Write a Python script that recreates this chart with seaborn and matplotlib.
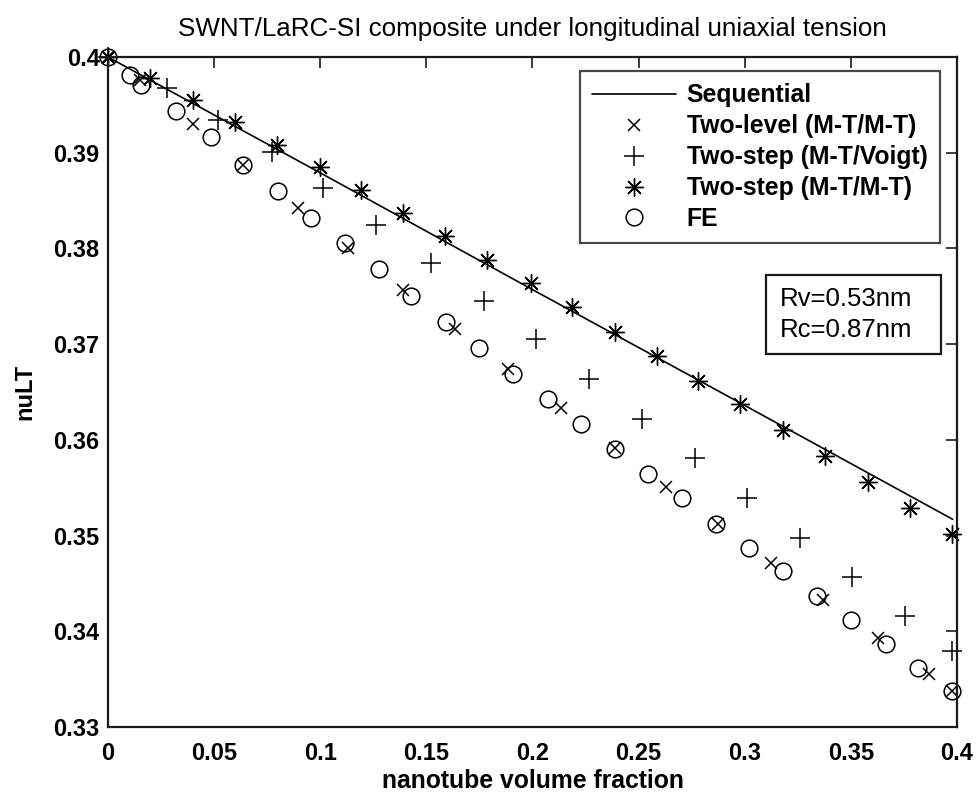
import matplotlib
matplotlib.use("Agg")
import matplotlib.pyplot as plt
from matplotlib.patches import Rectangle
import seaborn as sns

# ---- data ----
seq_x = [0.0, 0.1, 0.2, 0.3, 0.398]
seq_y = [0.4000, 0.3879, 0.3757, 0.3636, 0.3517]

lvl_x = [0.0, 0.015, 0.0402, 0.0637, 0.0893, 0.1132, 0.1391, 0.1635, 0.1886,
         0.2133, 0.239, 0.2627, 0.2872, 0.3126, 0.337, 0.3626, 0.387, 0.3978]
lvl_y = [0.4000, 0.3976, 0.3930, 0.3887, 0.3842, 0.3800, 0.3757, 0.3716, 0.3674,
         0.3633, 0.3591, 0.3551, 0.3512, 0.3471, 0.3433, 0.3393, 0.3355, 0.3338]

voigt_x = [0.0, 0.0276, 0.052, 0.0771, 0.1012, 0.1263, 0.1524, 0.1773, 0.2019,
           0.2268, 0.2517, 0.2766, 0.3012, 0.326, 0.3507, 0.3755, 0.3975]
voigt_y = [0.4000, 0.3968, 0.3934, 0.3901, 0.3863, 0.3825, 0.3785, 0.3745, 0.3705,
           0.3664, 0.3622, 0.3581, 0.3539, 0.3498, 0.3457, 0.3416, 0.3379]

mt_x = [0.0, 0.0198, 0.0402, 0.0598, 0.0795, 0.0997, 0.1194, 0.1392, 0.159,
        0.1787, 0.1991, 0.2188, 0.239, 0.2585, 0.278, 0.298, 0.318, 0.338,
        0.358, 0.378, 0.3978]
mt_y = [0.4000, 0.3978, 0.3955, 0.3932, 0.3908, 0.3885, 0.3861, 0.3837, 0.3813,
        0.3788, 0.3764, 0.3739, 0.3713, 0.3688, 0.3661, 0.3637, 0.3610, 0.3583,
        0.3556, 0.3529, 0.3502]

fe_x = [0.0, 0.0104, 0.0158, 0.032, 0.0484, 0.0637, 0.0799, 0.0956, 0.1116,
        0.1278, 0.143, 0.1592, 0.175, 0.191, 0.2072, 0.2229, 0.239, 0.2546,
        0.2703, 0.2867, 0.3021, 0.318, 0.3342, 0.35, 0.3664, 0.3818, 0.3978]
fe_y = [0.4000, 0.3981, 0.3971, 0.3944, 0.3916, 0.3887, 0.3860, 0.3832, 0.3806,
        0.3779, 0.3750, 0.3723, 0.3696, 0.3669, 0.3643, 0.3617, 0.3590, 0.3564,
        0.3539, 0.3512, 0.3487, 0.3463, 0.3437, 0.3412, 0.3387, 0.3362, 0.3338]

x_ticks = [0, 0.05, 0.1, 0.15, 0.2, 0.25, 0.3, 0.35, 0.4]
x_tick_labels = ["0", "0.05", "0.1", "0.15", "0.2", "0.25", "0.3", "0.35", "0.4"]
y_ticks = [0.33, 0.34, 0.35, 0.36, 0.37, 0.38, 0.39, 0.40]
y_tick_labels = ["0.33", "0.34", "0.35", "0.36", "0.37", "0.38", "0.39", "0.4"]

title = "SWNT/LaRC-SI composite under longitudinal uniaxial tension"
x_label = "nanotube volume fraction"
y_label = "nuLT"
box_lines = ["Rv=0.53nm", "Rc=0.87nm"]

# ---- styling ----
sns.set_theme(style="white")
plt.rcParams["font.family"] = ["Liberation Sans", "DejaVu Sans"]
plt.rcParams["axes.edgecolor"] = "#1a1a1a"
plt.rcParams["axes.linewidth"] = 1.6

fig = plt.figure(figsize=(9.77, 7.93), dpi=100)
ax = fig.add_axes([0.1105, 0.0832, 0.869, 0.8449])

k = "black"
common = dict(ax=ax, color=k, estimator=None, sort=False, clip_on=False)
sns.lineplot(x=seq_x, y=seq_y, lw=1.2, label="Sequential", **common)
sns.lineplot(x=lvl_x, y=lvl_y, linestyle="", marker="x", markersize=9,
             markeredgewidth=1.1, markeredgecolor=k, label="Two-level (M-T/M-T)",
             **common)
sns.lineplot(x=voigt_x, y=voigt_y, linestyle="", marker="+", markersize=14,
             markeredgewidth=1.1, markeredgecolor=k, label="Two-step (M-T/Voigt)",
             **common)
sns.lineplot(x=mt_x, y=mt_y, linestyle="", marker=(8, 2, 0), markersize=13,
             markeredgewidth=1.0, markeredgecolor=k, label="Two-step (M-T/M-T)",
             **common)
sns.lineplot(x=fe_x, y=fe_y, linestyle="", marker="o", markersize=12,
             markerfacecolor="none", markeredgecolor=k, markeredgewidth=1.1,
             label="FE", **common)

ax.set_xlim(0, 0.4)
ax.set_ylim(0.33, 0.40)
ax.set_xticks(x_ticks)
ax.set_xticklabels(x_tick_labels)
ax.set_yticks(y_ticks)
ax.set_yticklabels(y_tick_labels)
ax.tick_params(axis="both", direction="in", length=8, width=1.2, colors="#1a1a1a",
               top=True, right=True, labelsize=17)
ax.tick_params(axis="x", pad=11)
ax.tick_params(axis="y", pad=6)
for lab in ax.get_xticklabels() + ax.get_yticklabels():
    lab.set_fontweight("bold")
    lab.set_color("black")

ax.set_title(title, fontsize=18.7, color="black", pad=15)
ax.set_xlabel(x_label, fontsize=17.8, fontweight="bold", color="black", labelpad=3)
ax.set_ylabel(y_label, fontsize=17, fontweight="bold", color="black", labelpad=12)

leg = ax.legend(loc="upper right", bbox_to_anchor=(0.980, 0.979), borderaxespad=0,
                prop={"size": 17.8, "weight": "bold"}, frameon=True, fancybox=False,
                edgecolor="#1a1a1a", handlelength=3.4, handletextpad=0.42,
                labelspacing=0.28, borderpad=0.5)
leg.get_frame().set_linewidth(1.6)
for t in leg.get_texts():
    t.set_color("black")

# annotation text box
ax.add_patch(Rectangle((0.775, 0.5567), 0.206, 0.1179, transform=ax.transAxes,
                       fc="white", ec="#1a1a1a", lw=1.6, zorder=5))
ax.text(0.7915, 0.6388, box_lines[0], transform=ax.transAxes, ha="left",
        va="center", fontsize=18.5, color="black", zorder=6)
ax.text(0.7915, 0.5925, box_lines[1], transform=ax.transAxes, ha="left",
        va="center", fontsize=18.5, color="black", zorder=6)

fig.savefig("out.png", dpi=100)
